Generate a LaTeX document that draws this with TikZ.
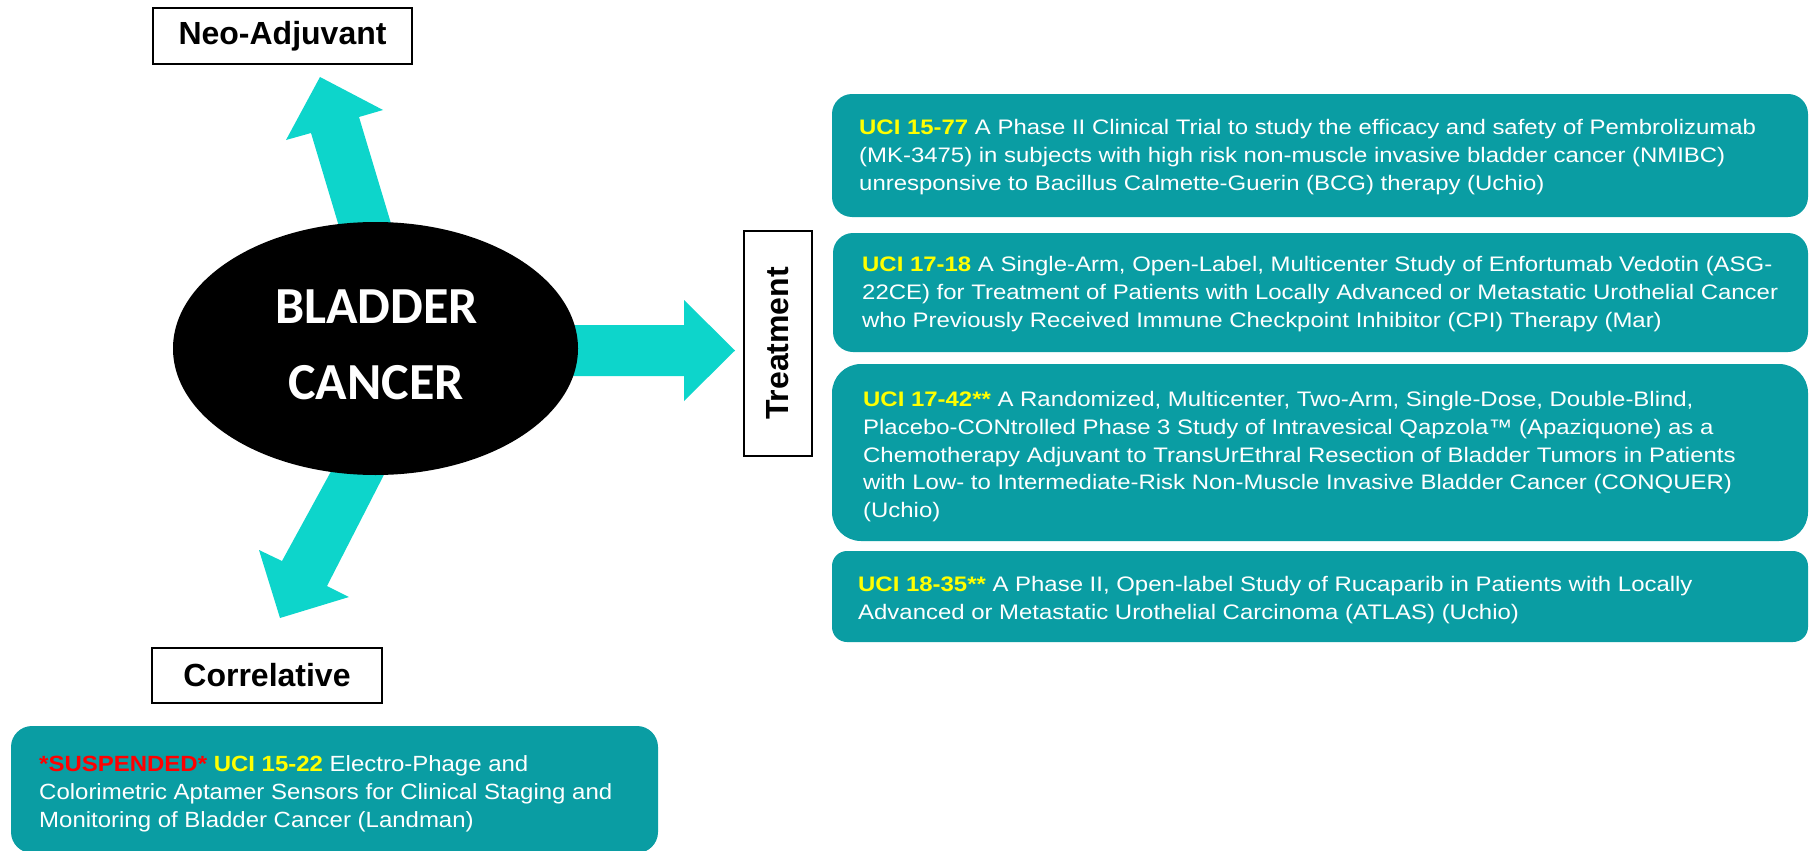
\documentclass[tikz,border=0pt]{standalone}
\usepackage{fontspec}
\setmainfont{Liberation Sans}
\newfontfamily\calib{Carlito}
\newfontfamily\widefont[FakeStretch=1.14]{Liberation Sans}
\newfontfamily\semiwidefont[FakeStretch=1.09]{Liberation Sans}
\usetikzlibrary{shapes.geometric}
\definecolor{tealbox}{HTML}{0A9DA3}
\definecolor{cyanarrow}{HTML}{0DD5CB}
\definecolor{uciyellow}{HTML}{FFFF00}
\definecolor{suspred}{HTML}{FF0000}
\tikzset{
  labelbox/.style={draw=black, line width=1.5pt, fill=white, font=\fontsize{32}{36}\selectfont\bfseries, inner sep=0pt},
  trialbox/.style={fill=tealbox, draw=none},
  trialtext/.style={text=white, font=\widefont\fontsize{21}{27.6}\selectfont, align=left, inner sep=0pt, anchor=north west},
  blockarrow/.style={fill=cyanarrow, draw=none},
}
\newcommand{\uci}[1]{\textcolor{uciyellow}{\bfseries #1}}
\begin{document}
\begin{tikzpicture}[x=1pt,y=-1pt]
\useasboundingbox (0,0) rectangle (1810,851);
% arrows (behind ellipse)
\draw[blockarrow] (355,280) -- (311,133) -- (286,140) -- (320,77) -- (383,110) -- (359,117) -- (408,280) -- cycle;
\draw[blockarrow] (358,422) -- (282,561) -- (259,550) -- (280,618) -- (349,597) -- (327,586) -- (411,422) -- cycle;
\draw[blockarrow] (540,325) -- (684,325) -- (684,300) -- (735,350.5) -- (684,401) -- (684,376) -- (540,376) -- cycle;
% central ellipse
\node[ellipse, fill=black, minimum width=405pt, minimum height=253pt, inner sep=0pt] (bc) at (375.5,348.5) {};
\node[text=white, font=\calib\fontsize{52}{76}\selectfont\bfseries, anchor=base, inner sep=0pt] (bl) at (376.5,323) {BLADDER};
\node[text=white, font=\calib\fontsize{52}{76}\selectfont\bfseries, anchor=base, inner sep=0pt] (ca) at (376,399) {CANCER};
% label boxes
\node[labelbox, minimum width=259pt, minimum height=56pt] (neo) at (282.5,36) {Neo-Adjuvant};
\node[labelbox, minimum width=230pt, minimum height=55pt] (cor) at (267,675.5) {Correlative};
\node[labelbox, minimum width=68pt, minimum height=225pt] (trbox) at (778,343.5) {};
\node[font=\fontsize{32}{36}\selectfont\bfseries, rotate=90, inner sep=0pt] (tr) at (trbox.center) {Treatment};
% trial boxes
\draw[trialbox, rounded corners=20pt] (832,94) rectangle (1808,217);
\draw[trialbox, rounded corners=20pt] (833,233) rectangle (1808,352);
\draw[trialbox, rounded corners=29pt] (832,364) rectangle (1808,541);
\draw[trialbox, rounded corners=15pt] (832,551) rectangle (1808,642);
\draw[trialbox, rounded corners=21pt] (11,726) rectangle (658,853);
% trial texts
\node[trialtext] (t1) at (859,135-15.5) {\uci{UCI 15-77} A Phase II Clinical Trial to study the efficacy and safety of Pembrolizumab\\(MK-3475) in subjects with high risk non-muscle invasive bladder cancer (NMIBC)\\unresponsive to Bacillus Calmette-Guerin (BCG) therapy (Uchio)};
\node[trialtext] (t2) at (862,272-15.5) {\uci{UCI 17-18} A Single-Arm, Open-Label, Multicenter Study of Enfortumab Vedotin (ASG-\\22CE) for Treatment of Patients with Locally Advanced or Metastatic Urothelial Cancer\\who Previously Received Immune Checkpoint Inhibitor (CPI) Therapy (Mar)};
\node[trialtext] (t3) at (863,407-15.5) {\uci{UCI 17-42**} A Randomized, Multicenter, Two-Arm, Single-Dose, Double-Blind,\\Placebo-CONtrolled Phase 3 Study of Intravesical Qapzola™ (Apaziquone) as a\\Chemotherapy Adjuvant to TransUrEthral Resection of Bladder Tumors in Patients\\with Low- to Intermediate-Risk Non-Muscle Invasive Bladder Cancer (CONQUER)\\(Uchio)};
\node[trialtext] (t4) at (858,592-15.5) {\uci{UCI 18-35**} A Phase II, Open-label Study of Rucaparib in Patients with Locally\\Advanced or Metastatic Urothelial Carcinoma (ATLAS) (Uchio)};
\node[trialtext, font=\semiwidefont\fontsize{22}{28}\selectfont] (t5) at (39,771-16) {\textcolor{suspred}{\bfseries *SUSPENDED*} \uci{UCI 15-22} Electro-Phage and\\Colorimetric Aptamer Sensors for Clinical Staging and\\Monitoring of Bladder Cancer (Landman)};
\end{tikzpicture}
\end{document}
